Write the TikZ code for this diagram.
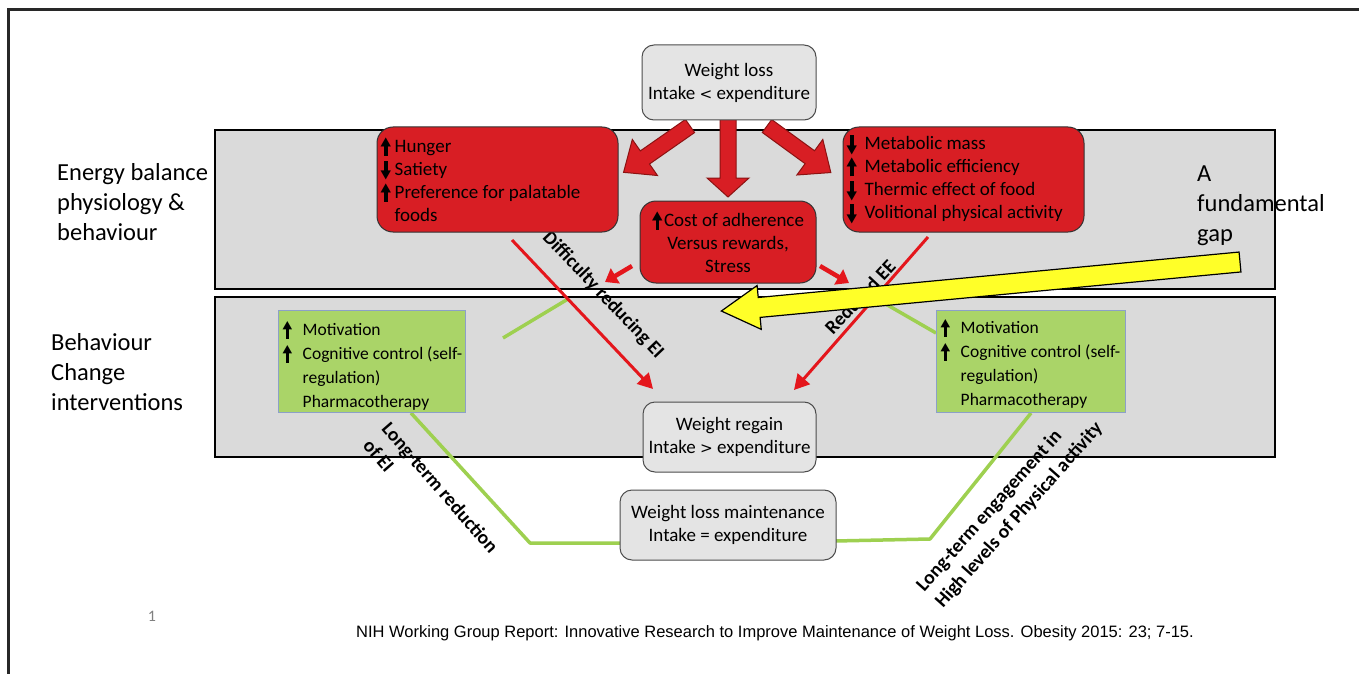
\documentclass[tikz,border=0pt]{standalone}
\usepackage{fontspec}
\setmainfont{Carlito}
\newfontfamily\symf{DejaVu Sans}
\newfontfamily\citef{Liberation Sans}
\usetikzlibrary{arrows.meta}
\definecolor{bandgray}{RGB}{218,218,218}
\definecolor{boxgray}{RGB}{228,228,228}
\definecolor{boxred}{RGB}{216,30,36}
\definecolor{linered}{RGB}{228,22,28}
\definecolor{arrowedge}{RGB}{140,18,18}
\definecolor{boxgreen}{RGB}{170,212,104}
\definecolor{greenedge}{RGB}{140,160,200}
\definecolor{linegreen}{RGB}{158,208,80}
\definecolor{gapyellow}{RGB}{255,255,40}
\definecolor{framegray}{RGB}{40,40,40}
\newcommand{\ua}[1][14pt]{\makebox[#1][l]{\rlap{\hspace{0.19em}\rule[-0.2em]{0.17em}{0.6em}}\raisebox{0.36em}{\resizebox{0.55em}{0.4em}{\symf ▲}}}}
\newcommand{\da}[1][14pt]{\makebox[#1][l]{\rlap{\hspace{0.19em}\rule[0.16em]{0.17em}{0.6em}}\raisebox{-0.2em}{\resizebox{0.55em}{0.4em}{\symf ▼}}}}
\newcommand{\blockarr}[8]{\draw[#1,shift={(#2,#3)},rotate=#4] (0,-#6) -- ({#5-#8},-#6) -- ({#5-#8},-#7) -- (#5,0) -- ({#5-#8},#7) -- ({#5-#8},#6) -- (0,#6) -- cycle;}
\begin{document}
\begin{tikzpicture}[x=1pt,y=-1pt,
  font=\fontsize{19}{23}\selectfont,
  band/.style={draw=black, line width=1.2pt, fill=bandgray},
  graybox/.style={draw=black!70, line width=1pt, fill=boxgray, rounded corners=12pt, align=center},
  redbox/.style={draw=black!80, line width=1pt, fill=boxred, rounded corners=16pt},
  greenbox/.style={draw=greenedge, line width=1pt, fill=boxgreen},
  boxtext/.style={align=left, inner sep=0pt, anchor=west},
  sidelabel/.style={align=left, anchor=west, font=\fontsize{24.5}{30}\selectfont, inner sep=0pt},
  rotlabel/.style={font=\bfseries\fontsize{19.5}{25}\selectfont, align=left, inner sep=0pt},
  redline/.style={draw=linered, line width=3pt, -{Triangle[length=15pt,width=16pt]}},
  redthick/.style={draw=linered, line width=4.5pt, -{Triangle[length=12pt,width=17pt]}},
  greenline/.style={draw=linegreen, line width=3.5pt, line join=round},
  blockred/.style={fill=boxred, draw=arrowedge, line width=1pt, line join=miter},
  blockyellow/.style={fill=gapyellow, draw=black, line width=1.2pt, line join=miter}]
\useasboundingbox (0,0) rectangle (1359,674);
\fill[white] (0,0) rectangle (1359,674);
% frame
\draw[framegray, line width=2.5pt] (8.5,674) -- (8.5,9.5) -- (1359,9.5);
% bands
\node[band, minimum width=1060pt, minimum height=159pt, inner sep=0pt] (band1) at (745,209.5) {};
\node[band, minimum width=1060pt, minimum height=160pt, inner sep=0pt] (band2) at (745,377) {};
% side labels
\node[sidelabel] (energy) at (57,202) {Energy balance\\physiology \&\\behaviour};
\node[sidelabel] (change) at (51,372) {Behaviour\\Change\\interventions};
\node[sidelabel] (gap) at (1197,206) {A\\fundamental\\gap};
% coordinates for free connector ends
\coordinate (g1) at (503,338);
\coordinate (g2) at (568,299);
\coordinate (g3) at (877,299);
\coordinate (g4) at (936,333);
\coordinate (lb1) at (411,413);
\coordinate (lb2) at (530,543);
\coordinate (lb3) at (621,543);
\coordinate (rb1) at (1031,413);
\coordinate (rb2) at (930,539);
\coordinate (rb3) at (835,541);
\coordinate (d1) at (512,240);
\coordinate (d2) at (653,389);
\coordinate (e1) at (928,237);
\coordinate (e2) at (794,390);
\coordinate (s1) at (632,266);
\coordinate (s2) at (605,282);
\coordinate (s3) at (820,266);
\coordinate (s4) at (849,283);
% green connectors
\draw[greenline] (g1) -- (g2);
\draw[greenline] (g3) -- (g4);
\draw[greenline] (lb1) -- (lb2) -- (lb3);
\draw[greenline] (rb1) -- (rb2) -- (rb3);
% red line arrows and labels
\draw[redline] (d1) -- (d2);
\node[rotlabel, rotate=-46.5] (diff) at (603,295) {Difficulty reducing EI};
\node[rotlabel, rotate=47] (ree) at (860,297) {Reduced EE};
\draw[redline] (e1) -- (e2);
% block arrows from weight loss
\blockarr{blockred}{690}{126}{214.9}{81}{8}{22}{26}
\blockarr{blockred}{767}{126}{-36.1}{79}{8}{22}{26}
\blockarr{blockred}{728}{112}{-90}{85}{8}{21}{19}
% boxes
\node[graybox, minimum width=174pt, minimum height=75pt] (wl) at (729,82.5) {Weight loss\\Intake {\symf\scalebox{0.8}{<}} expenditure};
\node[graybox, minimum width=173pt, minimum height=70pt] (wr) at (729.5,437) {Weight regain\\Intake {\symf\scalebox{0.8}{>}} expenditure};
\node[graybox, minimum width=216pt, minimum height=70pt] (wm) at (728,525) {Weight loss maintenance\\Intake = expenditure};
\node[redbox, minimum width=241pt, minimum height=105pt] (red1) at (497.5,179.5) {};
\node[boxtext] (red1t) at ([xshift=4pt]red1.west) {\ua Hunger\\\da Satiety\\\ua Preference for palatable\\\hphantom{\ua}foods};
\node[redbox, minimum width=241pt, minimum height=105pt] (red3) at (963.5,179.5) {};
\node[boxtext] (red3t) at ([xshift=4pt]red3.west) {\da[18pt]Metabolic mass\\\ua[18pt]Metabolic efficiency\\\da[18pt]Thermic effect of food\\\da[18pt]Volitional physical activity};
\node[redbox, minimum width=176pt, minimum height=82pt, align=center] (red2) at (728,242) {\ua[12pt]Cost of adherence\\Versus rewards,\\Stress};
\node[greenbox, minimum width=187pt, minimum height=102pt] (gl) at (371.5,361) {};
\node[boxtext, font=\fontsize{17.5}{24}\selectfont] (glt) at ([xshift=5pt,yshift=-5pt]gl.west) {\ua[20pt]Motivation\\\ua[20pt]Cognitive control (self-\\\hphantom{\ua[20pt]}regulation)\\\hphantom{\ua[20pt]}Pharmacotherapy};
\node[greenbox, minimum width=189pt, minimum height=102pt] (gr) at (1030.5,361) {};
\node[boxtext, font=\fontsize{17.5}{24}\selectfont] (grt) at ([xshift=5pt,yshift=-3pt]gr.west) {\ua[20pt]Motivation\\\ua[20pt]Cognitive control (self-\\\hphantom{\ua[20pt]}regulation)\\\hphantom{\ua[20pt]}Pharmacotherapy};
% small red arrows
\draw[redthick] (s1) -- (s2);
\draw[redthick] (s3) -- (s4);
% yellow gap arrow
\blockarr{blockyellow}{1240}{262}{185.4}{521}{10}{22}{38}
% rotated bottom labels
\node[rotlabel, rotate=-49] (ltr) at (431,496) {Long-term reduction\\of EI};
\node[rotlabel, rotate=48.3] (lte) at (1010,507) {Long-term engagement in\\High levels of Physical activity};
% footer
\node[text=black!50, font=\fontsize{16}{18}\selectfont] (pg) at (152,616) {1};
\node[font=\citef\fontsize{16.5}{19}\selectfont] (cite) at (775,633) {NIH Working Group Report: Innovative Research to Improve Maintenance of Weight Loss. Obesity 2015: 23; 7-15.};
\end{tikzpicture}
\end{document}
